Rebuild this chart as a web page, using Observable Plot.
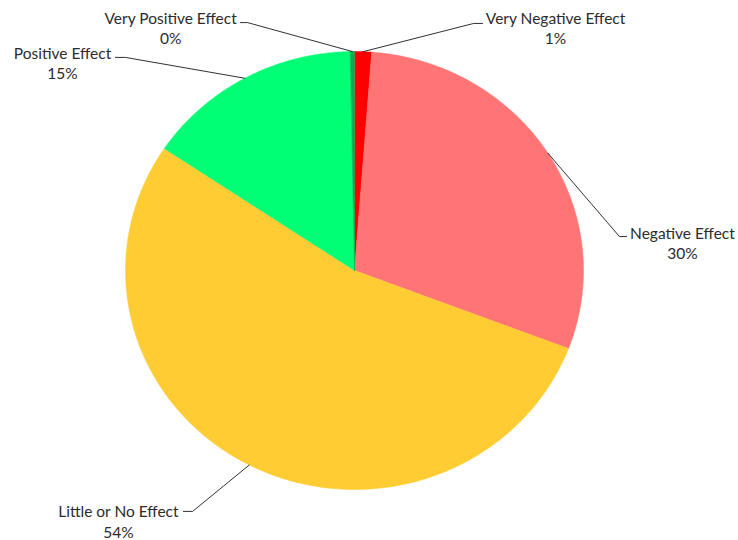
<!DOCTYPE html>
<html>
<head>
<meta charset="utf-8">
<script src="https://cdn.jsdelivr.net/npm/d3@7"></script>
<script src="https://cdn.jsdelivr.net/npm/@observablehq/plot@0.6"></script>
<style>
  html, body { margin: 0; padding: 0; background: #fff; }
</style>
</head>
<body>
<div id="chart"></div>
<script>
// Survey answers, clockwise from 12 o'clock
const categories = ["Very Negative Effect", "Negative Effect", "Little or No Effect", "Positive Effect", "Very Positive Effect"];
const shares = [1.2, 29.6, 53.6, 15.3, 0.3]; // percent
const colors = ["#FF0000", "#FF7575", "#FFCC33", "#00FF75", "#00B050"];

// Label placement in pie-radius units: text block centre (tx, ty),
// leader elbow (ex, ey) and the end of its short horizontal tail (hx).
const labelLayout = [
  { tx: 0.878, ty: 1.110, ex: 0.520, ey: 1.128, hx: 0.559 },
  { tx: 1.432, ty: 0.128, ex: 1.157, ey: 0.155, hx: 1.188 },
  { tx: -1.031, ty: -1.144, ex: -0.707, ey: -1.100, hx: -0.747 },
  { tx: -1.275, ty: 0.950, ex: -1.000, ey: 0.973, hx: -1.044 },
  { tx: -0.803, ty: 1.110, ex: -0.467, ey: 1.132, hx: -0.498 }
];

const total = d3.sum(shares);
const cumStart = shares.map((_, i) => d3.sum(shares.slice(0, i)) / total);

// Slice outlines: centre, then arc points, angle measured clockwise from the top
const slicePoints = [];
categories.forEach((category, i) => {
  const a0 = cumStart[i] * 2 * Math.PI;
  const a1 = (cumStart[i] + shares[i] / total) * 2 * Math.PI;
  const n = Math.max(2, Math.ceil((a1 - a0) / (Math.PI / 360)));
  slicePoints.push({ category, x: 0, y: 0 });
  for (let k = 0; k <= n; k++) {
    const a = a0 + (a1 - a0) * k / n;
    slicePoints.push({ category, x: Math.sin(a), y: Math.cos(a) });
  }
});

// Leader lines from the rim at each slice's middle angle
const leaderPoints = [];
const labels = [];
categories.forEach((category, i) => {
  const mid = (cumStart[i] + shares[i] / total / 2) * 2 * Math.PI;
  const L = labelLayout[i];
  leaderPoints.push({ category, x: Math.sin(mid), y: Math.cos(mid) });
  leaderPoints.push({ category, x: L.ex, y: L.ey });
  leaderPoints.push({ category, x: L.hx, y: L.ey });
  labels.push({ category, share: shares[i], x: L.tx, y: L.ty });
});

const chart = Plot.plot({
  width: 738,
  height: 540,
  margin: 0,
  style: { fontFamily: "Lato, 'Open Sans', sans-serif", background: "#fff" },
  x: { domain: [-1, 1], range: [125, 583], axis: null },
  y: { domain: [-1, 1], range: [489, 51], axis: null },
  color: { domain: categories, range: colors },
  marks: [
    Plot.line(slicePoints, {
      x: "x", y: "y", z: "category",
      fill: "category", stroke: "category", strokeWidth: 0.5,
      curve: "linear-closed"
    }),
    Plot.line(leaderPoints, {
      x: "x", y: "y", z: "category",
      stroke: "#1a1a1a", strokeWidth: 0.9
    }),
    Plot.text(labels, {
      x: "x", y: "y",
      text: d => `${d.category}\n${Math.round(d.share)}%`,
      fontSize: 15.5, lineHeight: 1.3,
      fill: "#2b2b2b"
    })
  ]
});

document.getElementById("chart").appendChild(chart);
</script>
</body>
</html>
